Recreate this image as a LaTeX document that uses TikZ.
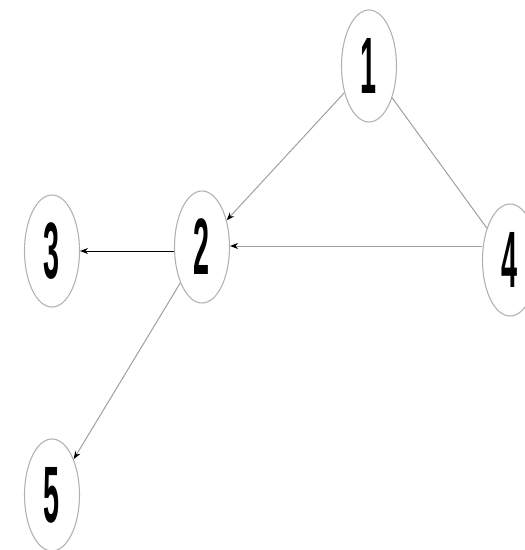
\documentclass[tikz,border=0pt]{standalone}
\usepackage{fontspec}
\setmainfont{Liberation Sans}
\usetikzlibrary{shapes.geometric,arrows.meta}
\begin{document}
\begin{tikzpicture}[x=1pt,y=-1pt,
  vtx/.style={ellipse,draw=gray!60,line width=1.1pt,minimum width=55pt,minimum height=112pt,inner sep=0pt,
    font=\fontsize{80}{80}\selectfont\bfseries},
  edge/.style={draw=gray!75,line width=1pt},
  arr/.style={edge,-{Stealth[length=8pt,width=6pt,black]}}]
\useasboundingbox (0,0) rectangle (525,550);
\node[vtx] (n1) at (369,66) {\scalebox{0.36}[1]{1}};
\node[vtx] (n2) at (202,247) {\scalebox{0.36}[1]{2}};
\node[vtx] (n3) at (52,251) {\scalebox{0.36}[1]{3}};
\node[vtx] (n4) at (510,260) {\scalebox{0.36}[1]{4}};
\node[vtx] (n5) at (52,495) {\scalebox{0.36}[1]{5}};
\draw[arr] (n1) -- (n2);
\draw[edge] (n1) -- (n4);
\draw[arr] ([yshift=14pt]n4.west) -- ([yshift=1pt]n2.east);
\draw[arr,draw=black] ([yshift=-4pt]n2.west) -- (n3.east);
\draw[arr] (n2) -- (n5);
\end{tikzpicture}
\end{document}
